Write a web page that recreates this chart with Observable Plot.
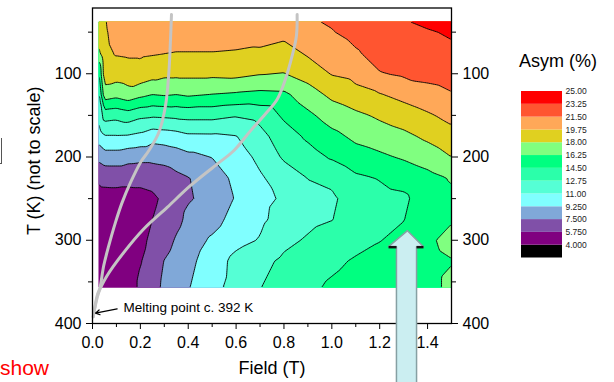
<!DOCTYPE html>
<html><head><meta charset="utf-8">
<script src="https://cdn.jsdelivr.net/npm/d3@7"></script>
<script src="https://cdn.jsdelivr.net/npm/@observablehq/plot@0.6"></script>
<style>
body{margin:0;background:#fff;}
#wrap{position:relative;width:614px;height:382px;overflow:hidden;font-family:"Liberation Sans",Arial,sans-serif;background:#fff;}
#main{position:absolute;left:0;top:0;}
#legend{position:absolute;left:500px;top:80px;}
#ltitle{position:absolute;left:519px;top:51px;font-size:18px;line-height:20px;white-space:nowrap;color:#000;}
#show{position:absolute;left:0px;top:356px;font-size:21px;line-height:24px;color:#ff0000;}
#bracket{position:absolute;left:0;top:138px;width:1px;height:25px;border-right:1px solid #555;border-bottom:1px solid #555;}
</style></head>
<body>
<div id="wrap">
  <div id="main"></div>
  <div id="ltitle">Asym (%)</div>
  <div id="legend"></div>
  <div id="show">show</div>
  <div id="bracket"></div>
</div>
<script>
// ---------- data ----------
const fields = [0.025, 0.05, 0.1, 0.15, 0.2, 0.25, 0.3, 0.35, 0.4, 0.5, 0.6, 0.7, 0.8, 0.9, 1.0, 1.1, 1.2, 1.3, 1.4, 1.5];
const temps  = [37, 50, 75, 100, 125, 150, 175, 200, 225, 250, 275, 300, 325, 357];
// Asym (%) : one row per temperature, one column per field
const asym = [
  [19.2, 19.6, 20.6, 20.7, 20.6, 20.7, 20.8, 20.8, 20.8, 20.8, 20.9, 21.0, 21.1, 21.3, 21.7, 22.5, 22.9, 23.15, 23.6, 24.2],
  [18.8, 19.5, 20.4, 20.5, 20.4, 20.5, 20.6, 20.6, 20.6, 20.6, 20.6, 20.7, 20.3, 21.0, 21.4, 22.1, 22.7, 22.9, 23.1, 23.45],
  [17.5, 19.3, 19.9, 20.0, 20.0, 19.9, 19.8, 19.7, 19.7, 19.7, 19.6, 19.4, 19.0, 20.0, 20.4, 21.3, 22.2, 22.4, 22.6, 22.9],
  [14.1, 18.9, 18.8, 19.0, 19.14, 18.7, 18.38, 18.4, 18.4, 18.4, 18.5, 18.1, 17.95, 18.7, 19.85, 20.2, 21.4, 21.75, 21.9, 22.1],
  [12.3, 17.2, 16.8, 17.3, 16.7, 16.25, 16.42, 16.25, 16.5, 16.2, 16.0, 15.8, 15.9, 17.2, 18.4, 19.3, 19.65, 20.25, 21.0, 21.4],
  [11.24, 13.5, 13.3, 13.7, 13.15, 13.0, 13.08, 13.2, 13.3, 13.3, 12.9, 13.3, 14.8, 15.9, 17.0, 17.6, 18.3, 18.9, 19.5, 20.3],
  [10.07, 10.9, 10.9, 10.85, 10.56, 9.95, 10.1, 10.3, 10.7, 10.73, 10.95, 12.2, 13.7, 14.8, 15.8, 16.6, 17.1, 17.6, 18.35, 19.1],
  [8.0, 8.45, 8.45, 8.1, 7.97, 7.96, 8.1, 8.4, 8.8, 9.3, 10.2, 11.4, 13.0, 13.8, 14.7, 15.6, 15.95, 16.45, 17.1, 18.0],
  [6.0, 6.2, 6.25, 6.25, 6.24, 6.43, 6.6, 7.1, 7.45, 8.1, 9.8, 10.8, 11.8, 12.8, 13.1, 14.2, 14.6, 15.1, 15.7, 16.4],
  [5.2, 5.2, 5.2, 5.1, 5.2, 5.4, 6.1, 6.8, 7.35, 8.0, 9.4, 10.6, 11.2, 12.2, 12.5, 13.5, 14.0, 14.2, 15.4, 15.9],
  [4.9, 4.8, 4.7, 4.6, 5.0, 5.75, 6.4, 7.0, 7.9, 8.6, 9.9, 10.7, 11.6, 12.3, 12.7, 13.4, 14.0, 14.45, 15.5, 16.15],
  [4.7, 4.6, 4.5, 4.4, 5.2, 6.2, 6.7, 7.7, 8.4, 9.5, 10.5, 11.1, 12.3, 12.95, 13.6, 13.9, 14.45, 14.95, 16.05, 16.6],
  [4.6, 4.5, 4.4, 4.3, 5.65, 6.5, 7.55, 8.3, 8.8, 10.1, 11.5, 12.2, 13.1, 13.6, 14.1, 14.7, 15.0, 15.3, 15.9, 16.2],
  [4.5, 4.4, 4.3, 4.3, 6.3, 6.7, 7.9, 8.6, 9.15, 10.5, 11.6, 12.7, 13.6, 14.1, 14.8, 15.3, 15.4, 15.5, 15.9, 16.5]
];
// grey phase-boundary curves (Field, T)
const curve1F = [0.330, 0.326, 0.319, 0.305, 0.277, 0.235, 0.2006, 0.159, 0.124, 0.096, 0.068, 0.047, 0.0305, 0.0196, 0.003];
const curve1T = [28.8, 58.5, 98.6, 138.5, 170.6, 192.5, 206.5, 230.5, 254.5, 278.5, 306.5, 330.4, 357.7, 366.4, 392];
const curve2F = [0.855, 0.852, 0.834, 0.806, 0.772, 0.723, 0.660, 0.590, 0.521, 0.409, 0.312, 0.214, 0.131, 0.0614, 0.0263, 0.003];
const curve2T = [28.8, 54.6, 78.6, 106.5, 130.5, 148, 168.6, 192.5, 208.5, 234.5, 260.5, 286.4, 314.5, 342.4, 362.5, 392];
// contour levels and colours
const thresholds = [4, 5.75, 7.5, 9.25, 11, 12.75, 14.5, 16.25, 18, 19.75, 21.5, 23.25];
const legendTicks = [4, 5.75, 7.5, 9.25, 11, 12.75, 14.5, 16.25, 18, 19.75, 21.5, 23.25, 25];
const palette = ["#000000", "#800080", "#8050a8", "#80a8d8", "#80ffff", "#55ffd5", "#2bffaa", "#00ff80", "#80ff80", "#e0d020", "#ffa858", "#ff5530", "#ff0000"];
const xMajor = [0, 0.2, 0.4, 0.6, 0.8, 1.0, 1.2, 1.4];
const xMinor = [0.1, 0.3, 0.5, 0.7, 0.9, 1.1, 1.3];
const yMajor = [100, 200, 300, 400];
const yMinor = [50, 150, 250, 350];

// ---------- annotations ----------
const meltArrow = [{x1: 0.103, y1: 382.4, x2: 0.0125, y2: 387.6}];
const meltLabel = [{F: 0.1295, T: 381.4, text: "Melting point c. 392 K"}];
const bigArrow = [
  {F: 1.316, T: 288.5}, {F: 1.383, T: 307.7}, {F: 1.354, T: 307.7}, {F: 1.354, T: 480},
  {F: 1.270, T: 480}, {F: 1.270, T: 307.7}, {F: 1.237, T: 307.7}
];
const arrowShadow = [{x1: 1.237, x2: 1.270, y: 308.3}, {x1: 1.354, x2: 1.383, y: 308.3}];

// ---------- build ----------
const points = [];
temps.forEach((T, i) => fields.forEach((F, j) => points.push({F, T, v: asym[i][j]})));
const curve1 = curve1F.map((F, i) => ({F, T: curve1T[i]}));
const curve2 = curve2F.map((F, i) => ({F, T: curve2T[i]}));
const bounds = {x1: fields[0], x2: fields[fields.length - 1], y1: temps[0], y2: temps[temps.length - 1]};
const color = {type: "threshold", domain: thresholds, range: palette};
const font = "Liberation Sans, Arial, sans-serif";

const chart = Plot.plot({
  width: 614, height: 382,
  marginLeft: 92, marginRight: 163, marginTop: 7.5, marginBottom: 59,
  style: {fontFamily: font, fontSize: "16px", color: "#000", background: "transparent", overflow: "visible"},
  x: {domain: [0, 1.5], label: null},
  y: {domain: [21, 400], reverse: true, label: null},
  color,
  marks: [
    Plot.contour(points, {x: "F", y: "T", fill: "v", interpolate: "barycentric", thresholds, ...bounds}),
    Plot.contour(points, {x: "F", y: "T", value: "v", fill: "none", stroke: "#000", strokeWidth: 0.9, interpolate: "barycentric", thresholds, ...bounds}),
    Plot.line(curve1, {x: "F", y: "T", stroke: "#c4c4c4", strokeWidth: 3, curve: "catmull-rom"}),
    Plot.line(curve2, {x: "F", y: "T", stroke: "#c4c4c4", strokeWidth: 3, curve: "catmull-rom"}),
    Plot.frame({stroke: "#000", strokeWidth: 1.3}),
    Plot.axisX({anchor: "bottom", ticks: xMajor, tickFormat: d3.format(".1f"), tickSize: 6, tickPadding: 7, label: null, fontSize: 16}),
    Plot.axisX({anchor: "bottom", ticks: xMinor, tickSize: 4, tickFormat: () => "", label: null}),
    Plot.axisY({anchor: "left", ticks: yMajor, tickSize: 6, tickPadding: 5, label: null, fontSize: 16}),
    Plot.axisY({anchor: "left", ticks: yMinor, tickSize: 4, tickFormat: () => "", label: null}),
    Plot.axisY({anchor: "right", ticks: yMajor, tickSize: 6, tickPadding: 5, label: null, fontSize: 16}),
    Plot.axisY({anchor: "right", ticks: yMinor, tickSize: 4, tickFormat: () => "", label: null}),
    Plot.text(["Field (T)"], {text: d => d, frameAnchor: "bottom", textAnchor: "middle", lineAnchor: "middle", dy: 45, fontSize: 18}),
    Plot.text(["T (K) (not to scale)"], {text: d => d, frameAnchor: "left", textAnchor: "middle", lineAnchor: "middle", rotate: -90, dx: -58, dy: -5, fontSize: 18}),
    Plot.arrow(meltArrow, {x1: "x1", y1: "y1", x2: "x2", y2: "y2", stroke: "#000", strokeWidth: 1.2, headLength: 6}),
    Plot.text(meltLabel, {x: "F", y: "T", text: "text", textAnchor: "start", fontSize: 13.5}),
    Plot.line(bigArrow, {x: "F", y: "T", fill: "#cbeef1", stroke: "#86a0a3", strokeWidth: 1.5, curve: "linear-closed"}),
    Plot.link(arrowShadow, {x1: "x1", x2: "x2", y1: "y", y2: "y", stroke: "#111", strokeWidth: 2.5})
  ]
});
document.getElementById("main").appendChild(chart);

// hide the raster border from the contour-line layer: clip it to the data region (via the plot's scales)
(function () {
  const xs = chart.scale("x"), ys = chart.scale("y");
  const ns = "http://www.w3.org/2000/svg";
  const svg = chart.tagName.toLowerCase() === "svg" ? chart : chart.querySelector("svg");
  const defs = document.createElementNS(ns, "defs");
  const cp = document.createElementNS(ns, "clipPath");
  cp.setAttribute("id", "contourClip");
  const r = document.createElementNS(ns, "rect");
  const x0 = xs.apply(bounds.x1) + 0.8, x1 = xs.apply(bounds.x2) - 0.8;
  const y0 = ys.apply(bounds.y1) + 0.8, y1 = ys.apply(bounds.y2) - 0.8;
  r.setAttribute("x", Math.min(x0, x1)); r.setAttribute("y", Math.min(y0, y1));
  r.setAttribute("width", Math.abs(x1 - x0)); r.setAttribute("height", Math.abs(y1 - y0));
  cp.appendChild(r); defs.appendChild(cp); svg.insertBefore(defs, svg.firstChild);
  const groups = svg.querySelectorAll('g[aria-label="contour"]');
  if (groups.length > 1) groups[1].setAttribute("clip-path", "url(#contourClip)");
})();

// legend
const bins = legendTicks.map((hi, i) => ({lo: i ? legendTicks[i - 1] : 2.25, hi}));
const legend = Plot.plot({
  width: 114, height: 190, marginLeft: 21, marginRight: 52, marginTop: 11, marginBottom: 12.5,
  style: {fontFamily: font, fontSize: "8.5px", color: "#222", background: "transparent", overflow: "visible"},
  x: {domain: [0, 1], axis: null},
  y: {domain: [2.25, 25], label: null, axis: null},
  color,
  marks: [
    Plot.rect(bins, {x1: 0, x2: 1, y1: "lo", y2: "hi", fill: "lo"}),
    Plot.axisY({anchor: "right", ticks: legendTicks, tickFormat: d3.format(".4r"), tickSize: 0, tickPadding: 3, label: null, fontSize: 8.5})
  ]
});
document.getElementById("legend").appendChild(legend);
</script>
</body></html>
